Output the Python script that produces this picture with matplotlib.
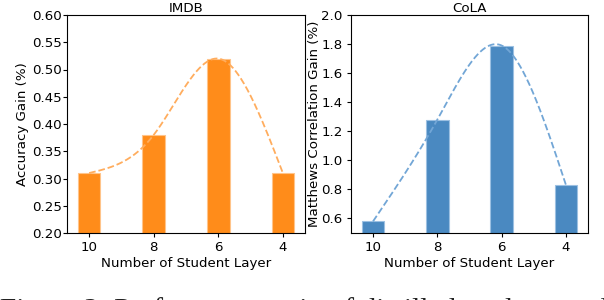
import numpy as np
import matplotlib
matplotlib.use("Agg")
import matplotlib.pyplot as plt

layers = ["10", "8", "6", "4"]
imdb_gain = [0.31, 0.38, 0.52, 0.31]
cola_gain = [0.58, 1.28, 1.79, 0.83]

imdb_ticks = [0.20, 0.25, 0.30, 0.35, 0.40, 0.45, 0.50, 0.55, 0.60]
cola_ticks = [0.6, 0.8, 1.0, 1.2, 1.4, 1.6, 1.8, 2.0]

caption = "Figure 2: Performance gain of distilled student model"


def natural_spline(y, n=300):
    y = np.asarray(y, float)
    k = len(y)
    A = np.zeros((k, k))
    b = np.zeros(k)
    A[0, 0] = 1
    A[-1, -1] = 1
    for i in range(1, k - 1):
        A[i, i - 1] = 1
        A[i, i] = 4
        A[i, i + 1] = 1
        b[i] = 6 * (y[i + 1] - 2 * y[i] + y[i - 1])
    M = np.linalg.solve(A, b)
    xs = np.linspace(0, k - 1, n)
    ys = np.empty_like(xs)
    for j, xv in enumerate(xs):
        i = min(int(np.floor(xv)), k - 2)
        t = xv - i
        ys[j] = (M[i] * (1 - t) ** 3 / 6 + M[i + 1] * t ** 3 / 6
                 + (y[i] - M[i] / 6) * (1 - t) + (y[i + 1] - M[i + 1] / 6) * t)
    return xs, ys


plt.rcParams['font.family'] = ['DejaVu Sans']
plt.rcParams['axes.linewidth'] = 0.8
plt.rcParams['xtick.major.size'] = 2.8
plt.rcParams['ytick.major.size'] = 2.8
plt.rcParams['xtick.major.width'] = 0.8
plt.rcParams['ytick.major.width'] = 0.8
plt.rcParams['xtick.major.pad'] = 2.8

fig = plt.figure(figsize=(6.04, 3.0), dpi=100)
ax1 = fig.add_axes([67 / 604, 67 / 300, 238 / 604, 218 / 300])
ax2 = fig.add_axes([351 / 604, 67 / 300, 237 / 604, 218 / 300])

fs = 9.6
orange = "#ff8c1a"
blue = "#4a89c1"

for ax, vals, col, ecol, lcol, ticks, fmt, ylim, ylabel, title, ypad, lpad in [
    (ax1, imdb_gain, orange, "#ffc48a", "#ffad5e", imdb_ticks, "{:.2f}", (0.2, 0.6),
     "Accuracy Gain (%)", "IMDB", 1.0, 2.0),
    (ax2, cola_gain, blue, "#9cc0e2", "#72a6d6", cola_ticks, "{:.1f}", (0.5, 2.0),
     "Matthews Correlation Gain (%)", "CoLA", 3.2, 0.5),
]:
    x = np.arange(len(vals))
    ax.bar(x, vals, width=0.35, color=col, edgecolor=ecol, linewidth=0.8, zorder=2)
    xs, ys = natural_spline(vals)
    ax.plot(xs, ys, linestyle="--", color=lcol, linewidth=1.3, zorder=3)
    ax.set_xticks(x)
    ax.set_xticklabels(layers, fontsize=fs)
    ax.set_yticks(ticks)
    ax.set_yticklabels([fmt.format(t) for t in ticks], fontsize=fs)
    ax.tick_params(axis="y", pad=ypad)
    ax.set_ylim(*ylim)
    ax.set_xlabel("Number of Student Layer", fontsize=fs, labelpad=2)
    ax.set_ylabel(ylabel, fontsize=fs, labelpad=lpad)
    ax.set_title(title, fontsize=fs, pad=2)

fig.text(0.0, (300 - 317.5) / 300, caption, family="Liberation Serif", fontsize=21.2,
         ha="left", va="baseline", color="#222222")

fig.savefig("out.png", dpi=100)
